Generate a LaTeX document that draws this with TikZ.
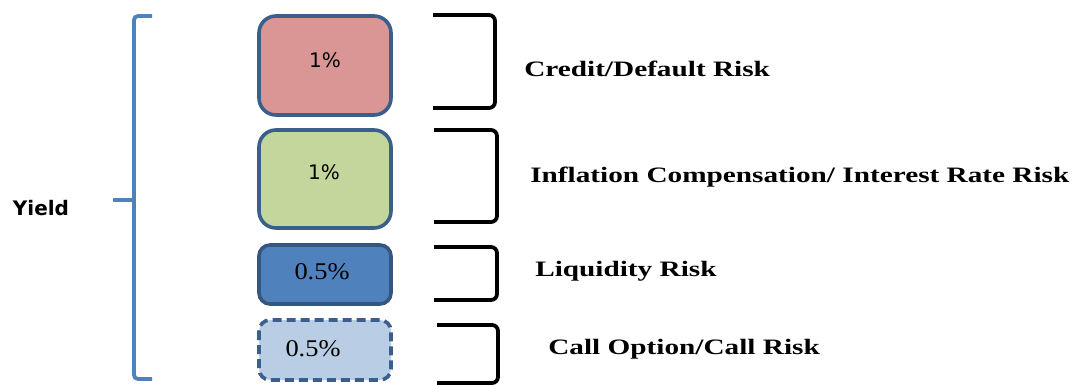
\documentclass[tikz,border=0pt]{standalone}
\usepackage{fontspec}
\setmainfont{Liberation Serif}
\newfontfamily\dejavu{DejaVu Sans}
\definecolor{bord}{HTML}{3B5F8C}
\definecolor{pinkf}{HTML}{D99694}
\definecolor{greenf}{HTML}{C3D69B}
\definecolor{bluef}{HTML}{4F81BD}
\definecolor{lbluef}{HTML}{B9CDE5}
\definecolor{braceblue}{HTML}{4F81BD}
\tikzset{
  boxbig/.style={draw=bord, line width=3.6pt, rounded corners=17pt},
  boxsmall/.style={draw=bord, line width=3.6pt, rounded corners=11pt},
  bracketline/.style={draw=black, line width=3.8pt, rounded corners=6pt},
  bracelinestyle/.style={draw=braceblue, line width=3.8pt, rounded corners=4pt},
  risklabel/.style={anchor=west, inner sep=0pt, font=\bfseries\fontsize{22}{24}\selectfont, xscale=1.33},
  sanspct/.style={inner sep=0pt, font=\dejavu\fontsize{20}{22}\selectfont},
  serifpct/.style={inner sep=0pt, font=\fontsize{24}{26}\selectfont, xscale=1.1},
}
\begin{document}
\begin{tikzpicture}[x=1pt,y=-1pt]
\useasboundingbox (0,0) rectangle (1074,385);
% left brace
\coordinate (bt) at (152,16);
\coordinate (bb) at (152,379);
\coordinate (bm) at (113,200);
\draw[bracelinestyle] (bt) -- (134,16) -- (134,379) -- (bb);
\draw[draw=braceblue, line width=3.8pt] (bm) -- (134,200);
\node[inner sep=0pt, font=\dejavu\bfseries\fontsize{20}{22}\selectfont] (yield) at (41,208) {Yield};
% boxes
\draw[boxbig, fill=pinkf] (259,16) rectangle (391,115);
\draw[boxbig, fill=greenf] (259,130) rectangle (391,228);
\draw[boxsmall, fill=bluef, draw=bord!90!black] (259,245) rectangle (391,304);
\draw[boxsmall, fill=lbluef, dash pattern=on 9pt off 5pt] (259,320) rectangle (391,380);
\node[sanspct] (p1) at (325,60) {1\%};
\node[sanspct] (p2) at (324,172) {1\%};
\node[serifpct] (p3) at (322,272) {0.5\%};
\node[serifpct] (p4) at (313,349) {0.5\%};
% brackets
\draw[bracketline] (433,15) -- (495,15) -- (495,108) -- (433,108);
\draw[bracketline] (434,130) -- (497,130) -- (497,222) -- (434,222);
\draw[bracketline] (434,247) -- (497,247) -- (497,300) -- (434,300);
\draw[bracketline] (437,325) -- (498,325) -- (498,383) -- (437,383);
% labels
\node[risklabel] (l1) at (524,69) {Credit/Default Risk};
\node[risklabel] (l2) at (530,177) {Inflation Compensation/ Interest Rate Risk};
\node[risklabel] (l3) at (535,271) {Liquidity Risk};
\node[risklabel] (l4) at (548,349) {Call Option/Call Risk};
\end{tikzpicture}
\end{document}
